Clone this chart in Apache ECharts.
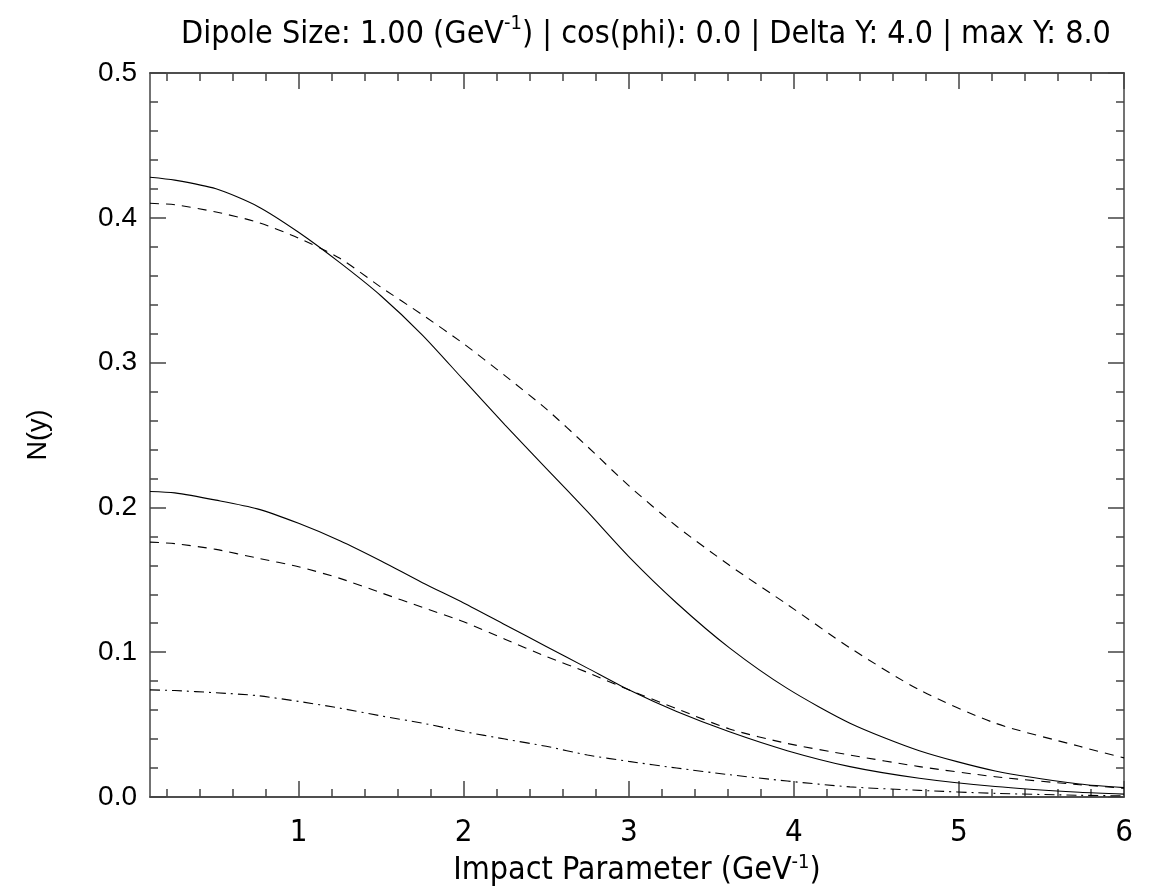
<!DOCTYPE html>
<html>
<head>
<meta charset="utf-8">
<script src="https://cdn.jsdelivr.net/npm/echarts@6/dist/echarts.min.js"></script>
<style>
  html, body { margin: 0; padding: 0; background: #fff; }
  #chart { width: 1157px; height: 888px; }
</style>
</head>
<body>
<div id="chart"></div>
<script>
// impact parameter grid (GeV^-1)
const impact = [0.1, 0.25, 0.5, 0.75, 1.0, 1.25, 1.5, 1.75, 2.0, 2.25, 2.5, 2.75, 3.0, 3.29, 3.61, 3.96, 4.34, 4.76, 5.22, 5.73, 6.0];

// N(y) curves
const solidHigh = [0.428, 0.426, 0.420, 0.408, 0.390, 0.369, 0.346, 0.319, 0.288, 0.257, 0.227, 0.197, 0.166, 0.134, 0.103, 0.075, 0.051, 0.032, 0.018, 0.009, 0.0065];
const dashHigh  = [0.410, 0.409, 0.404, 0.397, 0.386, 0.372, 0.352, 0.333, 0.313, 0.291, 0.268, 0.242, 0.215, 0.187, 0.160, 0.133, 0.103, 0.074, 0.051, 0.035, 0.027];
const solidLow  = [0.211, 0.210, 0.205, 0.199, 0.189, 0.177, 0.163, 0.148, 0.134, 0.119, 0.104, 0.089, 0.074, 0.059, 0.045, 0.032, 0.021, 0.013, 0.0073, 0.0033, 0.002];
const dashLow   = [0.176, 0.175, 0.171, 0.165, 0.159, 0.151, 0.141, 0.131, 0.121, 0.109, 0.097, 0.086, 0.074, 0.061, 0.047, 0.037, 0.029, 0.021, 0.014, 0.0085, 0.006];
const dashDot   = [0.074, 0.0735, 0.072, 0.070, 0.066, 0.0614, 0.056, 0.051, 0.0452, 0.040, 0.035, 0.029, 0.0246, 0.020, 0.0154, 0.011, 0.007, 0.0046, 0.0025, 0.0012, 0.0008];

// tick positions
const xMajor = [1, 2, 3, 4, 5, 6];
const xMinor = [0.2, 0.4, 0.6, 0.8, 1.2, 1.4, 1.6, 1.8, 2.2, 2.4, 2.6, 2.8, 3.2, 3.4, 3.6, 3.8,
                4.2, 4.4, 4.6, 4.8, 5.2, 5.4, 5.6, 5.8];

const frame = '#444';
const narrow = "'Liberation Sans Narrow', 'DejaVu Sans Condensed', 'Liberation Sans', sans-serif";
const sans = "'Liberation Sans', Arial, sans-serif";

function xAxis(pos, ticks, len, withLabels) {
    return {
        type: 'value',
        position: pos,
        min: 0.1,
        max: 6,
        axisLine: { show: true, onZero: false, lineStyle: { color: frame, width: 1.5 } },
        splitLine: { show: false },
        axisTick: { show: true, inside: true, length: len, customValues: ticks,
                    lineStyle: { color: frame, width: 1.5 } },
        axisLabel: withLabels
            ? { show: true, customValues: xMajor, margin: 20, color: '#000',
                fontSize: 31, fontFamily: narrow }
            : { show: false }
    };
}

function yAxis(pos, withLabels) {
    return {
        type: 'value',
        position: pos,
        min: 0,
        max: 0.5,
        interval: 0.1,
        axisLine: { show: true, onZero: false, lineStyle: { color: frame, width: 1.5 } },
        splitLine: { show: false },
        axisTick: { show: true, inside: true, length: 16, lineStyle: { color: frame, width: 1.5 } },
        minorTick: { show: true, splitNumber: 5, length: 8, lineStyle: { color: frame, width: 1.5 } },
        axisLabel: withLabels
            ? { show: true, margin: 13, color: '#000', fontSize: 28, fontFamily: sans,
                formatter: v => v.toFixed(1) }
            : { show: false },
        name: withLabels ? 'N(y)' : '',
        nameLocation: 'middle',
        nameGap: 98,
        nameTextStyle: { color: '#000', fontSize: 27, fontFamily: sans }
    };
}

function curve(name, ys, dash) {
    return {
        name: name,
        type: 'line',
        xAxisIndex: 0,
        yAxisIndex: 0,
        showSymbol: false,
        silent: true,
        smooth: 0.25,
        data: impact.map((x, i) => [x, ys[i]]),
        lineStyle: { color: '#000', width: 1.1, type: dash }
    };
}

const chart = echarts.init(document.getElementById('chart'), null, { renderer: 'canvas' });

const xs = [
    xAxis('bottom', xMajor, 16, true),
    xAxis('bottom', xMinor, 8, false),
    xAxis('top', xMajor, 16, false),
    xAxis('top', xMinor, 8, false)
];
xs[0].name = '{t|Impact Parameter (GeV}{s|-1}{t|)}';
xs[0].nameLocation = 'middle';
xs[0].nameGap = 44;
xs[0].nameTextStyle = {
    rich: {
        t: { fontSize: 32, fontFamily: narrow, color: '#000', lineHeight: 36 },
        s: { fontSize: 20, fontFamily: narrow, color: '#000', verticalAlign: 'top', lineHeight: 18 }
    }
};

chart.setOption({
    animation: false,
    backgroundColor: '#fff',
    title: {
        text: '{t|Dipole Size: 1.00 (GeV}{s|-1}{t|) | cos(phi): 0.0 | Delta Y: 4.0 | max Y: 8.0}',
        left: 176,
        top: 9,
        textStyle: {
            rich: {
                t: { fontSize: 32, fontWeight: 'normal', fontFamily: narrow, color: '#000', lineHeight: 42 },
                s: { fontSize: 20, fontWeight: 'normal', fontFamily: narrow, color: '#000',
                     verticalAlign: 'top', lineHeight: 20 }
            }
        }
    },
    grid: { left: 150, right: 33, top: 73, bottom: 91, containLabel: false, outerBoundsMode: 'none' },
    xAxis: xs,
    yAxis: [yAxis('left', true), yAxis('right', false)],
    series: [
        curve('solid high', solidHigh, 'solid'),
        curve('dashed high', dashHigh, [9, 7]),
        curve('solid low', solidLow, 'solid'),
        curve('dashed low', dashLow, [9, 7]),
        curve('dash dot', dashDot, [10, 5, 2, 5])
    ]
});
</script>
</body>
</html>
